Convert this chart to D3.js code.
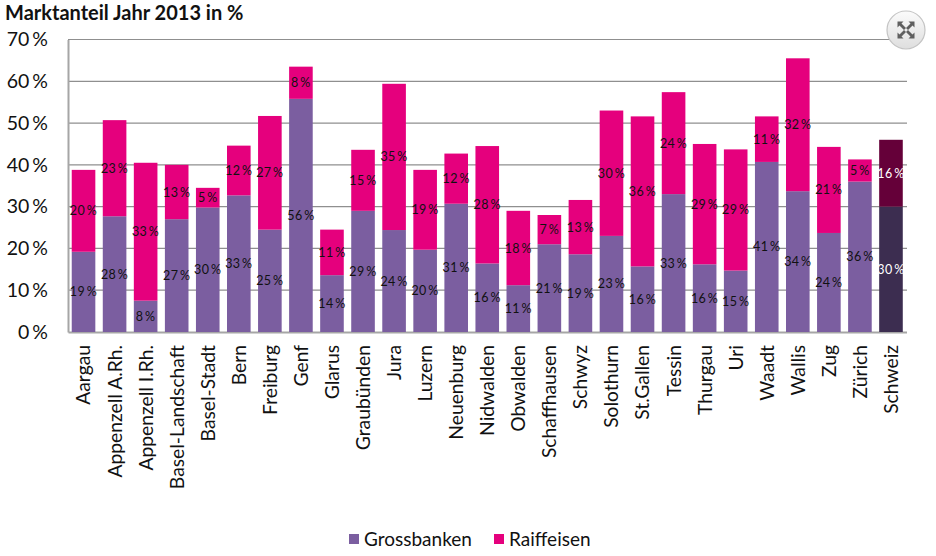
<!DOCTYPE html>
<html>
<head>
<meta charset="utf-8">
<script src="https://cdn.jsdelivr.net/npm/d3@7"></script>
<style>
    html, body { margin: 0; padding: 0; background: #fff; }
    svg { display: block; }
    text { font-family: Lato, "Noto Sans", sans-serif; fill: #111; }
    .domain { stroke: #a6a6a6; stroke-width: 2; }
</style>
</head>
<body>
<div id="chart"></div>
<script>
const cantons = ["Aargau", "Appenzell A.Rh.", "Appenzell I.Rh.", "Basel-Landschaft", "Basel-Stadt", "Bern", "Freiburg", "Genf", "Glarus", "Graubünden", "Jura", "Luzern", "Neuenburg", "Nidwalden", "Obwalden", "Schaffhausen", "Schwyz", "Solothurn", "St.Gallen", "Tessin", "Thurgau", "Uri", "Waadt", "Wallis", "Zug", "Zürich", "Schweiz"];
const grossbanken = [19.2, 27.7, 7.5, 27, 29.8, 32.7, 24.5, 55.8, 13.6, 29, 24.4, 19.7, 30.7, 16.4, 11.2, 21, 18.6, 23, 15.7, 33, 16.2, 14.7, 40.7, 33.7, 23.7, 36, 30];
const raiffeisen = [19.6, 23, 33, 13, 4.7, 11.9, 27.2, 7.7, 10.9, 14.6, 35, 19.1, 12, 28.1, 17.8, 7, 13, 30, 35.9, 24.4, 28.8, 29, 10.9, 31.8, 20.6, 5.3, 16];
const yTicks = [0, 10, 20, 30, 40, 50, 60, 70];
const seriesNames = ["Grossbanken", "Raiffeisen"];

const width = 936, height = 556;
const svg = d3.select("#chart").append("svg")
    .attr("width", width)
    .attr("height", height);

const x = d3.scaleBand()
    .domain(cantons)
    .range([68, 906.5])
    .paddingInner(0.24)
    .paddingOuter(0.12);

const y = d3.scaleLinear()
    .domain([0, 70])
    .range([332, 39.5]);

// Title
svg.append("text")
    .attr("x", 5)
    .attr("y", 20)
    .attr("font-size", "20px")
    .attr("font-weight", "bold")
    .text("Marktanteil Jahr 2013 in %");

// Grid lines behind the bars
svg.selectAll("line.grid")
    .data(yTicks.filter(d => d > 0))
    .enter().append("line")
    .attr("class", "grid")
    .attr("x1", 68)
    .attr("x2", 907)
    .attr("y1", d => y(d))
    .attr("y2", d => y(d))
    .attr("stroke", "#8f8f8f")
    .attr("stroke-width", 1.2);

// Axes
const yAxis = svg.append("g")
    .attr("transform", "translate(68,0)")
    .call(d3.axisLeft(y).tickValues(yTicks).tickSize(0).tickPadding(20).tickFormat(d => d + " %"));
yAxis.selectAll("text")
    .attr("font-size", "19.5px")
    .attr("word-spacing", "-2px");

const xAxis = svg.append("g")
    .attr("transform", "translate(0,332)")
    .call(d3.axisBottom(x).tickSize(0));
xAxis.selectAll("text")
    .attr("font-size", "19.3px")
    .attr("text-anchor", "end")
    .attr("transform", "rotate(-90)")
    .attr("x", -13)
    .attr("y", 0)
    .attr("dy", "0.36em");

// Stacked bars
const barColor = (i, base, dark) => cantons[i] === "Schweiz" ? dark : base;

svg.selectAll("rect.gross")
    .data(cantons)
    .enter().append("rect")
    .attr("class", "gross")
    .attr("x", d => x(d))
    .attr("width", x.bandwidth())
    .attr("y", (d, i) => y(grossbanken[i]))
    .attr("height", (d, i) => y(0) - y(grossbanken[i]))
    .attr("fill", (d, i) => barColor(i, "#7b5ea0", "#3c2d50"));

svg.selectAll("rect.raiff")
    .data(cantons)
    .enter().append("rect")
    .attr("class", "raiff")
    .attr("x", d => x(d))
    .attr("width", x.bandwidth())
    .attr("y", (d, i) => y(grossbanken[i] + raiffeisen[i]))
    .attr("height", (d, i) => y(0) - y(raiffeisen[i]))
    .attr("fill", (d, i) => barColor(i, "#e5007d", "#650039"));

// Value labels in the middle of each segment
const addLabels = (cls, values, base) => {
    svg.selectAll("text." + cls)
        .data(cantons)
        .enter().append("text")
        .attr("class", cls)
        .attr("x", d => x(d) + x.bandwidth() / 2)
        .attr("y", (d, i) => y(base(i) + values[i] / 2))
        .attr("dy", "0.36em")
        .attr("text-anchor", "middle")
        .attr("font-size", "12.5px")
        .attr("letter-spacing", "0.4px")
        .attr("word-spacing", "-2px")
        .style("fill", d => d === "Schweiz" ? "#fff" : "#111")
        .text((d, i) => Math.round(values[i]) + " %");
};
addLabels("label-gross", grossbanken, () => 0);
addLabels("label-raiff", raiffeisen, i => grossbanken[i]);

// Legend
const legendX = [349, 494];
const legendColors = ["#7b5ea0", "#e5007d"];
const legend = svg.selectAll("g.legend")
    .data(seriesNames)
    .enter().append("g")
    .attr("class", "legend")
    .attr("transform", (d, i) => `translate(${legendX[i]},534)`);
legend.append("rect")
    .attr("width", 10)
    .attr("height", 10)
    .attr("fill", (d, i) => legendColors[i]);
legend.append("text")
    .attr("x", 15)
    .attr("y", 5)
    .attr("dy", "0.36em")
    .attr("font-size", "19px")
    .text(d => d);

// Fullscreen button, top right
const defs = svg.append("defs");
const grad = defs.append("linearGradient")
    .attr("id", "btn")
    .attr("x1", 0).attr("y1", 0).attr("x2", 0).attr("y2", 1);
grad.append("stop").attr("offset", "0%").attr("stop-color", "#fbfbfb");
grad.append("stop").attr("offset", "100%").attr("stop-color", "#dedede");

const btn = svg.append("g").attr("transform", "translate(906,30)");
btn.append("circle")
    .attr("r", 19)
    .attr("fill", "url(#btn)")
    .attr("stroke", "#c4c4c4")
    .attr("stroke-width", 1.2);
[0, 90, 180, 270].forEach(a => {
    const arrow = btn.append("g").attr("transform", `rotate(${a})`);
    arrow.append("path")
        .attr("d", "M-8.5,-8.5 L-2.5,-8.5 L-4.5,-6.5 L0,-2 L-2,0 L-6.5,-4.5 L-8.5,-2.5 Z")
        .attr("fill", "#5f5f5f");
});
</script>
</body>
</html>
